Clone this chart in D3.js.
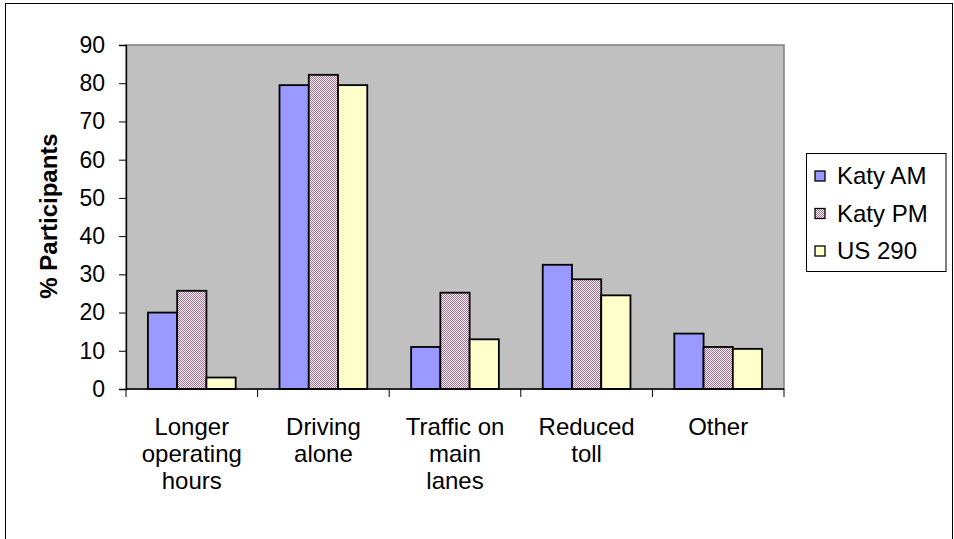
<!DOCTYPE html>
<html><head><meta charset="utf-8">
<script src="https://cdn.jsdelivr.net/npm/d3@7"></script>
<style>body{margin:0;background:#fff}svg{display:block}</style>
</head><body>
<script>
const categories = [["Longer","operating","hours"],["Driving","alone"],["Traffic on","main","lanes"],["Reduced","toll"],["Other"]];
const seriesNames = ["Katy AM","Katy PM","US 290"];
const katyAM = [20, 79.5, 11, 32.5, 14.5];
const katyPM = [25.7, 82.2, 25.2, 28.7, 11];
const us290 = [3, 79.5, 13, 24.5, 10.5];
const yTicks = [0,10,20,30,40,50,60,70,80,90];
const seriesValues = [katyAM, katyPM, us290];

(function(){
const W = 954, H = 539;
const svg = d3.select("body").append("svg").attr("width", W).attr("height", H);
const defs = svg.append("defs");
const pat = defs.append("pattern").attr("id","chk").attr("width",2).attr("height",2).attr("patternUnits","userSpaceOnUse");
pat.append("rect").attr("width",2).attr("height",2).attr("fill","#fff");
pat.append("rect").attr("x",0).attr("y",0).attr("width",1).attr("height",1).attr("fill","#B3668F");
pat.append("rect").attr("x",1).attr("y",1).attr("width",1).attr("height",1).attr("fill","#B3668F");
const fills = ["#9999FF","url(#chk)","#FFFFCC"];

svg.append("rect").attr("x",5.5).attr("y",3.5).attr("width",947).attr("height",545).attr("fill","#fff").attr("stroke","#000").attr("stroke-width",1);

const pl = 126, pr = 784, pt = 45, pb = 389;
const x = d3.scaleBand().domain(d3.range(categories.length)).range([pl, pr]).paddingInner(0).paddingOuter(0);
const y = d3.scaleLinear().domain([0, 90]).range([pb, pt]);
const bw = x.bandwidth() / 4.5;
const x1 = d3.scaleBand().domain(d3.range(3)).range([x.bandwidth()/2 - 1.5*bw, x.bandwidth()/2 + 1.5*bw]);

svg.append("rect").attr("x",pl).attr("y",pt).attr("width",pr-pl).attr("height",pb-pt)
  .attr("fill","#C0C0C0").attr("stroke","#808080").attr("stroke-width",1.5);

const font = "'Liberation Sans', Arial, sans-serif";

categories.forEach((c, i) => {
  seriesValues.forEach((vals, s) => {
    svg.append("rect")
      .attr("x", x(i) + x1(s)).attr("y", y(vals[i]))
      .attr("width", x1.bandwidth()).attr("height", y(0) - y(vals[i]))
      .attr("fill", fills[s]).attr("stroke","#000").attr("stroke-width",1.8);
  });
});

const yAxis = d3.axisLeft(y).tickValues(yTicks).tickSize(7).tickPadding(14);
const gy = svg.append("g").attr("transform",`translate(${pl},0)`).call(yAxis);
gy.select(".domain").attr("stroke","#000").attr("stroke-width",1.3);
gy.selectAll(".tick line").attr("stroke","#000");
gy.selectAll("text").attr("font-family",font).attr("font-size",23).attr("fill","#000");

const gx = svg.append("g");
gx.append("line").attr("x1",pl).attr("x2",pr).attr("y1",pb).attr("y2",pb).attr("stroke","#000").attr("stroke-width",1.3);
d3.range(categories.length+1).forEach(i => {
  const xx = i < categories.length ? x(i) : pr;
  gx.append("line").attr("x1",xx).attr("x2",xx).attr("y1",pb).attr("y2",pb+8).attr("stroke","#000");
});
categories.forEach((lines, i) => {
  const t = gx.append("text").attr("font-family",font).attr("font-size",24).attr("text-anchor","middle").attr("fill","#000");
  lines.forEach((ln, k) => {
    t.append("tspan").attr("x", x(i) + x.bandwidth()/2).attr("y", 435 + k*27).text(ln);
  });
});

svg.append("text").attr("transform","translate(57,216) rotate(-90)")
  .attr("text-anchor","middle").attr("font-family",font).attr("font-size",24).attr("font-weight","bold")
  .text("% Participants");

const lg = svg.append("g");
lg.append("rect").attr("x",806.5).attr("y",153.5).attr("width",139.5).attr("height",118).attr("fill","#fff").attr("stroke","#000");
seriesNames.forEach((n, s) => {
  const cy = 176 + s*37.5;
  lg.append("rect").attr("x",815).attr("y",cy-5).attr("width",10).attr("height",10).attr("fill",fills[s]).attr("stroke","#000").attr("stroke-width",1.3);
  lg.append("text").attr("x",837).attr("y",cy+8).attr("font-family",font).attr("font-size",24).attr("fill","#000").text(n);
});
})();
</script>
</body></html>
